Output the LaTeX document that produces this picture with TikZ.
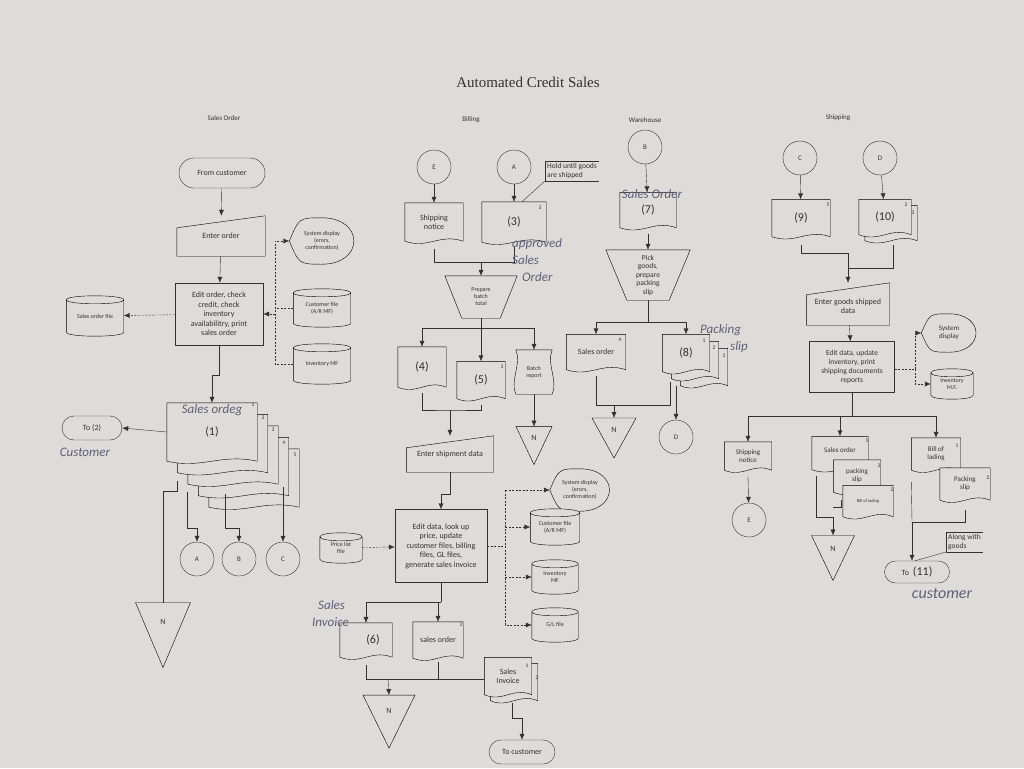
\documentclass[tikz,border=0pt]{standalone}
\usepackage{fontspec}
\setmainfont{Carlito}
\newfontfamily\titlef{Liberation Serif}
\usetikzlibrary{calc,shapes.misc,arrows.meta}
\pgfdeclarelayer{bg}\pgfdeclarelayer{back}\pgfsetlayers{back,bg,main}
\definecolor{paper}{RGB}{222,220,216}
\definecolor{ink}{RGB}{50,50,50}
\definecolor{pen}{RGB}{95,95,120}
\tikzset{
 t/.style={font=\fontsize{8}{9.5}\selectfont,align=center,inner sep=1pt},
 ts/.style={font=\fontsize{6}{7}\selectfont,align=center,inner sep=1pt},
 big/.style={font=\fontsize{12}{13}\selectfont},
 sup/.style={font=\fontsize{5.5}{6}\selectfont,inner sep=0pt},
 box/.style={t,draw,fill=paper,minimum width=#1},
 blank/.style 2 args={t,minimum width=#1,minimum height=#2},
 term/.style={t,draw,rounded rectangle,fill=paper},
 conn/.style={t,draw,circle,minimum size=34pt,font=\fontsize{7}{8}\selectfont},
 arr/.style={-{Latex[length=6pt,width=5pt]}},
 dsh/.style={dash pattern=on 2pt off 1.5pt},
 hw/.style={font=\fontsize{13}{17}\selectfont\itshape,text=pen,inner sep=0pt,align=left},
 hdr/.style={font=\fontsize{7}{8}\selectfont},
}
\newcommand\docat[3]{\begin{pgfonlayer}{bg}\draw[fill=paper] let \p1=(#1.south west),\p2=(#1.north east),\n1={0.4*(\x2-\x1)} in (\x1+#2,\y1-#3) -- (\x1+#2,\y2-#3) -- (\x2+#2,\y2-#3) -- (\x2+#2,\y1-#3) .. controls (\x2+#2-\n1,\y1-#3+8pt) and (\x1+#2+\n1,\y1-#3-8pt) .. (\x1+#2,\y1-#3) -- cycle;\end{pgfonlayer}}
\newcommand\tape[1]{\begin{pgfonlayer}{bg}\draw[fill=paper] let \p1=(#1.south west),\p2=(#1.north east),\n1={0.3*(\y2-\y1)} in (\x1,\y1) .. controls (\x1-6pt,\y1+\n1) and (\x1+6pt,\y2-\n1) .. (\x1,\y2) -- (\x2,\y2) .. controls (\x2-6pt,\y2-\n1) and (\x2+6pt,\y1+\n1) .. (\x2,\y1) -- cycle;\end{pgfonlayer}}
\newcommand\minp[1]{\begin{pgfonlayer}{bg}\draw[fill=paper] let \p1=(#1.south west),\p2=(#1.north east) in (\p1) -- (\x1,\y2-12pt) -- (\p2) -- (\x2,\y1) -- cycle;\end{pgfonlayer}}
\newcommand\mop[2]{\begin{pgfonlayer}{bg}\draw[fill=paper] (#1.north west) -- (#1.north east) -- ([xshift=-#2pt]#1.south east) -- ([xshift=#2pt]#1.south west) -- cycle;\end{pgfonlayer}}
\newcommand\diskd[1]{\begin{pgfonlayer}{bg}\draw[fill=paper] let \p1=(#1.south west),\p2=(#1.north east) in (\x1,\y2-4pt) .. controls (\x1,\y2+1.33pt) and (\x2,\y2+1.33pt) .. (\x2,\y2-4pt) -- (\x2,\y1+4pt) .. controls (\x2,\y1-1.33pt) and (\x1,\y1-1.33pt) .. (\x1,\y1+4pt) -- cycle (\x2,\y2-4pt) .. controls (\x2,\y2-9.33pt) and (\x1,\y2-9.33pt) .. (\x1,\y2-4pt);\end{pgfonlayer}}
\newcommand\dispd[1]{\begin{pgfonlayer}{bg}\draw[fill=paper] let \p1=(#1.south west),\p2=(#1.north east),\n1={0.5*(\x2-\x1)},\n2={0.5*(\y1+\y2)} in (\x1,\n2) .. controls (\x1+0.3*\n1,\y2) .. (\x1+\n1,\y2) .. controls (\x2+0.3*\n1,\y2) and (\x2+0.3*\n1,\y1) .. (\x1+\n1,\y1) .. controls (\x1+0.3*\n1,\y1) .. (\x1,\n2) -- cycle;\end{pgfonlayer}}
\newcommand\offp[3]{\begin{pgfonlayer}{bg}\draw[fill=paper] ([shift={(-#2pt/2,0.3*#3pt)}]#1.center) -- ([shift={(#2pt/2,0.3*#3pt)}]#1.center) -- ([yshift=-0.7*#3pt]#1.center) -- cycle;\end{pgfonlayer}\coordinate (#1top) at ([yshift=0.3*#3pt]#1.center);}
\newcommand\brk[1]{\draw (#1.north east) -- (#1.north west) -- (#1.south west) -- (#1.south east);}
\begin{document}
\begin{tikzpicture}[x=1pt,y=-1pt,color=ink,line width=0.6pt]
\begin{pgfonlayer}{back}\fill[paper] (0,0) rectangle (1024,768);\end{pgfonlayer}
\useasboundingbox (0,0) rectangle (1024,768);
\node[font=\titlef\fontsize{15}{16}\selectfont] (title) at (528,82) {Automated Credit Sales};
\node[hdr] (h1) at (224,118) {Sales Order};
\node[hdr] (h2) at (471,120) {Billing};
\node[hdr] (h3) at (645,120) {Warehouse};
\node[hdr] (h4) at (838,118) {Shipping};
% ---------- Sales order column
\node[term,minimum width=88pt,minimum height=30pt] (fc) at (222,173) {From customer};
\node[blank={88pt}{40pt}] (eo) at (221,236) {Enter order}; \minp{eo}
\node[blank={65pt}{46pt},ts] (sd1) at (322,241) {System display\\(erors,\\confirmation)}; \dispd{sd1}
\node[box=88pt,minimum height=62pt] (eo2) at (219,314) {Edit order, check\\credit, check\\inventory\\availabilitry, print\\sales order};
\node[blank={57pt}{40pt},ts] (sof) at (95,316) {Sales order file}; \diskd{sof}
\node[blank={57pt}{38pt},ts] (cf1) at (322,308) {Customer file\\(A/R MF)}; \diskd{cf1}
\node[blank={57pt}{40pt},ts] (inv1) at (322,364) {Inventory MF}; \diskd{inv1}
\node[blank={90pt}{58pt},big] (so1) at (212,432) {(1)};
\docat{so1}{42pt}{46pt}\docat{so1}{31.5pt}{34.5pt}\docat{so1}{21pt}{23pt}\docat{so1}{10.5pt}{11.5pt}\docat{so1}{0pt}{0pt}
\node[hw] (hw1) at (212,410) {Sales ordeg};
\node[sup] (s11) at (253,405) {1};\node[sup] (s12) at (263,418) {2};\node[sup] (s13) at (273,430) {3};
\node[sup] (s14) at (284,443) {4};\node[sup] (s15) at (295,455) {5};
\node[term,minimum width=62pt,minimum height=24pt] (to2) at (92,428) {To (2)};
\node[hw] (hw2) at (85,452) {Customer};
\node[conn] (cA) at (197,559) {A};
\node[conn] (cB) at (239,559) {B};
\node[conn] (cC) at (283,559) {C};
\node[t] (n1) at (163,622) {N}; \offp{n1}{55}{65}
\draw[arr] (fc) -- (eo);
\draw[arr] (eo) -- (eo2);
\draw[arr,dsh] (eo2) -- (sof);
\coordinate (j1) at (275,241);
\draw[arr,dsh] (inv1.west) -| (j1) -- (sd1.west);
\draw[dsh] (cf1.west) -- (cf1.west -| j1);
\draw[arr,dsh] (eo2.east -| j1) -- (eo2.east);
\draw[arr] (eo2.south) -- ++(0,30) -| (so1.north);
\draw[arr] (so1.west) -- (to2.east);
\draw[arr] ([shift={(-10pt,50pt)}]cA.north) |- ([yshift=14pt]cA.north) -- (cA.north);
\draw[arr] ([shift={(-14pt,48pt)}]cB.north) |- ([yshift=14pt]cB.north) -- (cB.north);
\draw[arr] ([yshift=55pt]cC.north) -- (cC.north);
\draw ([shift={(10pt,-20pt)}]so1.south west) -- ([shift={(10pt,-30pt)}]so1.south west) -| (n1top);
% ---------- Billing
\node[conn] (cE) at (434,167) {E};
\node[conn] (cA2) at (514,167) {A};
\node[blank={58pt}{38pt}] (sn1) at (434,222) {Shipping\\notice}; \docat{sn1}{0pt}{0pt}
\node[blank={64pt}{40pt},big] (d3) at (514,222) {(3)}; \docat{d3}{0pt}{0pt}
\draw[arr] (cE) -- (sn1);
\draw[arr] (cA2) -- (d3);
\node[sup] (s3) at (540,208) {3};
\node[t,font=\fontsize{7.5}{9}\selectfont,align=left,anchor=west,inner sep=2pt] (hold) at (545,171) {Hold until goods\\are shipped}; \brk{hold}
\draw (hold.south west) -- ([xshift=8pt]d3.north);
\coordinate (m1) at (481,262);
\draw ([yshift=-8pt]sn1.south) |- (m1);
\draw ([yshift=-4pt]d3.south) |- (m1);
\node[blank={72pt}{42pt},ts] (pbt) at (481,297) {Prepare\\batch\\total}; \mop{pbt}{17}
\draw[arr] (m1) -- (pbt.north);
\node[hw,anchor=north west] (hw3) at (512,238) {approved\\Sales\\\hspace{10pt}Order};
\coordinate (m2) at (481,328);
\draw (pbt.south) -- (m2);
\node[blank={48pt}{40pt},big] (d4) at (422,367) {(4)}; \docat{d4}{0pt}{0pt}
\node[blank={48pt}{37pt},big] (d5) at (481,380) {(5)}; \docat{d5}{0pt}{0pt}
\node[sup] (s5) at (502,367) {3};
\node[blank={36pt}{44pt},ts] (br) at (534,372) {Batch\\report}; \tape{br}
\draw[arr] (m2) -| (d4.north);
\draw[arr] (m2) -- (d5.north);
\draw[arr] (m2) -| (br.north);
\node[t] (n2) at (534,438) {N}; \offp{n2}{36}{38}
\draw[arr] (br.south) -- (n2top);
\coordinate (m3) at (450,410);
\draw ([yshift=-6pt]d4.south) |- (m3) -| ([yshift=-6pt]d5.south);
\node[blank={87pt}{36pt}] (esd) at (450,454) {Enter shipment data}; \minp{esd}
\draw[arr] (m3) -- (esd.north);
\node[box=92pt,minimum height=73pt] (ed) at (441,546) {Edit data, look up\\price, update\\customer files, billing\\files, GL files,\\generate sales invoice};
\draw[arr] (esd.south) -- ++(0,22) -| (ed.north);
\node[blank={42pt}{30pt},ts] (pl) at (341,548) {Price list\\file}; \diskd{pl}
\draw[arr,dsh] (pl) -- (ed);
\node[blank={60pt}{42pt},ts] (sd2) at (580,490) {System display\\(erors,\\confirmation)}; \dispd{sd2}
\node[blank={49pt}{36pt},ts] (cf2) at (555,527) {Customer file\\(A/R MF)}; \diskd{cf2}
\node[blank={46pt}{34pt},ts] (inv2) at (555,577) {Inventory\\MF}; \diskd{inv2}
\node[blank={46pt}{34pt},ts] (gl) at (555,625) {G/L file}; \diskd{gl}
\coordinate (j2) at (505,490);
\draw[dsh] (ed.east) -- (ed.east -| j2);
\draw[arr,dsh] (j2) -- (sd2.west);
\draw[arr,dsh] (j2) |- (gl.west);
\draw[arr,dsh] (cf2.west -| j2) -- (cf2.west);
\draw[arr,dsh] (inv2.west -| j2) -- (inv2.west);
\coordinate (m4) at (441,602);
\draw (ed.south) -- (m4);
\node[blank={52pt}{34pt},big] (d6) at (366,640) {\hspace{14pt}(6)}; \docat{d6}{0pt}{0pt}
\node[blank={50pt}{36pt}] (so3) at (438,640) {sales order}; \docat{so3}{0pt}{0pt}
\node[sup] (s6) at (461,625) {3};
\draw[arr] (m4) -| (d6.north);
\draw[arr] (m4) -| (so3.north);
\node[hw,anchor=north west] (hw4) at (312,600) {\hspace{6pt}Sales\\Invoice};
\node[blank={47pt}{37pt}] (si) at (508,676) {Sales\\Invoice};
\docat{si}{6pt}{6pt}\docat{si}{0pt}{0pt}
\node[sup] (s71) at (527,666) {1};\node[sup] (s72) at (537,678) {2};
\coordinate (m5) at (388,679);
\draw ([yshift=-8pt]d6.south) |- (m5);
\draw ([yshift=-4pt]so3.south) |- (m5);
\draw (si.west |- m5) -- (m5);
\node[t] (n3) at (389,711) {N}; \offp{n3}{52}{53}
\draw[arr] (m5) -- (n3top);
\node[term,minimum width=68pt,minimum height=24pt] (tc) at (522,752) {To customer};
\draw[arr] ([shift={(4pt,-8pt)}]si.south) |- ([yshift=22pt]tc.north) -- (tc.north);
% ---------- Warehouse
\node[conn] (cB2) at (645,147) {B};
\node[blank={56pt}{35pt},big] (d7) at (648,210) {(7)}; \docat{d7}{0pt}{0pt}
\node[hw] (hw5) at (652,194) {Sales Order};
\draw[arr] (cB2) -- (d7);
\node[blank={84pt}{50pt},font=\fontsize{7.5}{8.5}\selectfont] (pick) at (648,275) {Pick\\goods,\\prepare\\packing\\slip}; \mop{pick}{21}
\draw[arr] ([yshift=-6pt]d7.south) -- (pick.north);
\coordinate (m6) at (648,322);
\draw (pick.south) -- (m6);
\node[blank={59pt}{35pt}] (so4) at (596,352) {Sales order}; \docat{so4}{0pt}{0pt}
\node[sup] (s8) at (620,340) {4};
\node[blank={47pt}{37pt},big] (d8) at (686,353) {(8)};
\docat{d8}{18pt}{14pt}\docat{d8}{9pt}{7pt}\docat{d8}{0pt}{0pt}
\node[sup] (s81) at (704,341) {1};\node[sup] (s82) at (714,348) {2};\node[sup] (s83) at (724,356) {3};
\draw[arr] (m6) -| (so4.north);
\draw[arr] (m6) -| (d8.north);
\node[hw,anchor=north west] (hw6) at (700,324) {Packing\\\hspace{30pt}slip};
\node[t] (n4) at (614,430) {N}; \offp{n4}{44}{40}
\coordinate (m7) at (614,405);
\draw ([yshift=-6pt]so4.south) |- (m7);
\draw ([shift={(-16pt,-10pt)}]d8.south) |- (m7);
\draw[arr] (m7) -- (n4top);
\node[conn] (cD) at (676,437) {D};
\draw[arr] ([shift={(-10pt,-14pt)}]d8.south) -- (cD.north);
% ---------- Shipping
\node[conn] (cC2) at (800,158) {C};
\node[conn] (cD2) at (880,158) {D};
\node[blank={58pt}{37pt},big] (d9) at (801,218) {(9)}; \docat{d9}{0pt}{0pt}
\node[sup] (s9) at (828,205) {5};
\node[blank={52pt}{35pt},big] (d10) at (885,217) {(10)};
\docat{d10}{6pt}{6pt}\docat{d10}{0pt}{0pt}
\node[sup] (s101) at (906,205) {2};\node[sup] (s102) at (913,213) {3};
\draw[arr] (cC2) -- (d9);
\draw[arr] (cD2) -- (d10);
\coordinate (m8a) at (848,253);
\coordinate (m8) at (848,268);
\draw ([yshift=-8pt]d9.south) |- (m8a) -- (m8);
\draw ([shift={(8pt,-10pt)}]d10.south) |- (m8);
\node[blank={83pt}{42pt}] (egs) at (848,304) {\rule{0pt}{10pt}Enter goods shipped\\data}; \minp{egs}
\draw[arr] (m8) -- (egs.north);
\node[box=85pt,minimum height=51pt,font=\fontsize{7.5}{9}\selectfont] (ed2) at (852,367) {Edit data, update\\inventory, print\\shipping documents\\reports};
\draw[arr] (egs) -- (ed2);
\node[blank={55pt}{38pt},ts,font=\fontsize{7}{8}\selectfont] (sd3) at (949,333) {System\\display}; \dispd{sd3}
\node[blank={42pt}{30pt},ts] (inv3) at (952,384) {Inventory\\M.F.}; \diskd{inv3}
\coordinate (j3) at (915,369);
\draw[dsh] (ed2.east |- j3) -- (j3);
\draw[arr,dsh] (j3) |- (sd3.west);
\draw[arr,dsh] (j3) |- (inv3.west);
\coordinate (m9) at (852,416);
\draw (ed2.south) -- (m9);
\node[blank={47pt}{28pt},font=\fontsize{7}{8}\selectfont] (sn2) at (748,456) {Shipping\\notice}; \docat{sn2}{0pt}{0pt}
\node[blank={56pt}{33pt},font=\fontsize{7}{8}\selectfont] (so5) at (840,453) {\raisebox{6pt}{Sales order}}; \docat{so5}{0pt}{0pt}
\node[sup] (s51) at (867,441) {5};
\node[blank={47pt}{32pt},font=\fontsize{7}{8}\selectfont] (ps3) at (857,476) {packing\\slip}; \docat{ps3}{0pt}{0pt}
\node[sup] (s52) at (879,466) {3};
\node[blank={50pt}{31pt},font=\fontsize{4.5}{5}\selectfont] (bl2) at (868,501) {Bill of lading}; \docat{bl2}{0pt}{0pt}
\node[sup] (s53) at (892,490) {2};
\node[blank={49pt}{32pt},font=\fontsize{7}{8}\selectfont] (bl1) at (936,454) {Bill of\\lading}; \docat{bl1}{0pt}{0pt}
\node[sup] (s54) at (957,446) {1};
\node[blank={50pt}{32pt},font=\fontsize{7}{8}\selectfont] (ps2) at (965,484) {Packing\\slip}; \docat{ps2}{0pt}{0pt}
\node[sup] (s55) at (988,478) {2};
\draw[arr] (m9) -| (sn2.north);
\draw[arr] (m9) -| (so5.north);
\draw[arr] (m9) -| (bl1.north);
\node[conn] (cE2) at (749,520) {E};
\draw[arr] ([yshift=-6pt]sn2.south) -- (cE2);
\node[t] (n5) at (833,549) {N}; \offp{n5}{43}{45}
\coordinate (m10) at (833,517);
\draw ([shift={(-24pt,-6pt)}]so5.south) |- (m10);
\draw ([shift={(-16pt,-8pt)}]ps3.south) |- ([yshift=10pt]m10);
\draw[arr] (m10) -- (n5top);
\node[term,minimum width=67pt,minimum height=22pt] (t11) at (917,572) {To\enspace{\fontsize{12}{12}\selectfont(11)}};
\coordinate (m11) at (912,522);
\draw ([yshift=-10pt]ps2.south) |- (m11);
\draw ([yshift=-12pt]bl1.south west) -- (m11);
\draw[arr] (m11) -- (t11.north -| m11);
\node[t,font=\fontsize{7.5}{9}\selectfont,align=left,anchor=west,inner sep=2pt] (alg) at (946,542) {Along with\\goods}; \brk{alg}
\draw (alg.south west) -- ([xshift=-2pt]t11.north);
\node[hw,font=\fontsize{16}{17}\selectfont\itshape] (hw7) at (942,593) {customer};
\end{tikzpicture}
\end{document}
